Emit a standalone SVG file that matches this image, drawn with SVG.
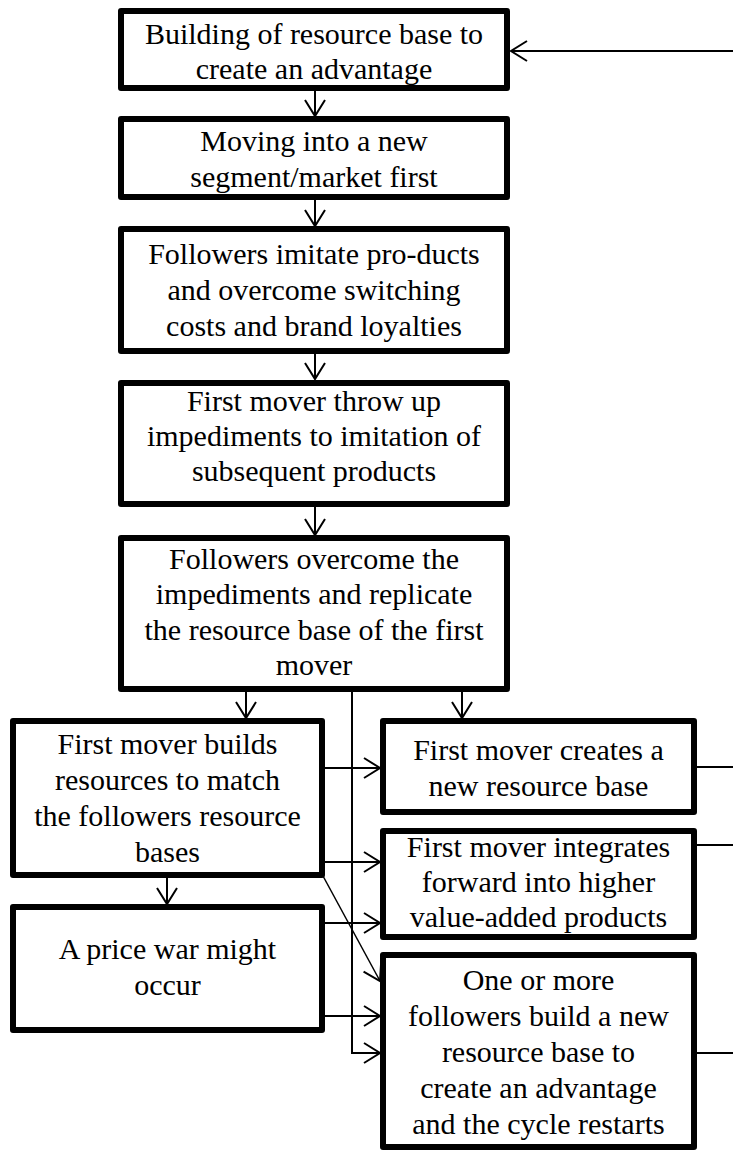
<svg xmlns="http://www.w3.org/2000/svg" width="733" height="1151" viewBox="0 0 733 1151">
<style>
.box{fill:#fff;stroke:#000;stroke-width:6;stroke-linejoin:round}
.t{font-family:"Liberation Serif","Times New Roman",serif;font-size:30px;fill:#000;text-anchor:middle}
.c{fill:none;stroke:#000;stroke-width:2}
.d{fill:none;stroke:#000;stroke-width:1.5}
</style>
<defs>
<marker id="ah" markerUnits="userSpaceOnUse" markerWidth="24" markerHeight="24" viewBox="-18 -12 20 24" refX="0" refY="0" orient="auto">
<path d="M-16,-10 L0,0 L-16,10" fill="none" stroke="#000" stroke-width="2"/>
</marker>
</defs>
<rect width="733" height="1151" fill="#fff"/>
<g id="connectors">
<line class="c" x1="733" y1="51" x2="511" y2="51" marker-end="url(#ah)"/>
<line class="c" x1="315" y1="91" x2="315" y2="116" marker-end="url(#ah)"/>
<line class="c" x1="315" y1="200" x2="315" y2="226" marker-end="url(#ah)"/>
<line class="c" x1="315" y1="354" x2="315" y2="379" marker-end="url(#ah)"/>
<line class="c" x1="315" y1="507" x2="315" y2="535" marker-end="url(#ah)"/>
<line class="c" x1="246" y1="692" x2="246" y2="718" marker-end="url(#ah)"/>
<line class="c" x1="462" y1="692" x2="462" y2="718" marker-end="url(#ah)"/>
<polyline class="c" points="352,692 352,1053 380,1053" marker-end="url(#ah)"/>
<line class="c" x1="325" y1="768" x2="380" y2="768" marker-end="url(#ah)"/>
<line class="c" x1="325" y1="862" x2="380" y2="862" marker-end="url(#ah)"/>
<line class="c" x1="167" y1="878" x2="167" y2="904" marker-end="url(#ah)"/>
<line class="d" x1="323" y1="876" x2="380" y2="981" marker-end="url(#ah)"/>
<line class="c" x1="325" y1="923" x2="380" y2="923" marker-end="url(#ah)"/>
<line class="c" x1="325" y1="1016" x2="380" y2="1016" marker-end="url(#ah)"/>
<line class="c" x1="697" y1="767" x2="733" y2="767"/>
<line class="c" x1="697" y1="845" x2="733" y2="845"/>
<line class="c" x1="697" y1="1053" x2="733" y2="1053"/>
</g>
<g id="n1">
<rect class="box" x="121" y="11" width="386" height="77"/>
<text class="t" x="314" y="44">Building of resource base to</text>
<text class="t" x="314" y="79">create an advantage</text>
</g>
<g id="n2">
<rect class="box" x="121" y="119" width="386" height="78"/>
<text class="t" x="314" y="151">Moving into a new</text>
<text class="t" x="314" y="187">segment/market first</text>
</g>
<g id="n3">
<rect class="box" x="121" y="229" width="386" height="122"/>
<text class="t" x="314" y="264">Followers imitate pro-ducts</text>
<text class="t" x="314" y="300">and overcome switching</text>
<text class="t" x="314" y="336">costs and brand loyalties</text>
</g>
<g id="n4">
<rect class="box" x="121" y="383" width="386" height="121"/>
<text class="t" x="314" y="411">First mover throw up</text>
<text class="t" x="314" y="446">impediments to imitation of</text>
<text class="t" x="314" y="481">subsequent products</text>
</g>
<g id="n5">
<rect class="box" x="121" y="538" width="386" height="151"/>
<text class="t" x="314" y="569">Followers overcome the</text>
<text class="t" x="314" y="604">impediments and replicate</text>
<text class="t" x="314" y="640">the resource base of the first</text>
<text class="t" x="314" y="675">mover</text>
</g>
<g id="n6">
<rect class="box" x="13" y="721" width="309" height="154"/>
<text class="t" x="167.5" y="754">First mover builds</text>
<text class="t" x="167.5" y="790">resources to match</text>
<text class="t" x="167.5" y="826">the followers resource</text>
<text class="t" x="167.5" y="862">bases</text>
</g>
<g id="n7">
<rect class="box" x="383" y="721" width="311" height="91"/>
<text class="t" x="538.5" y="760">First mover creates a</text>
<text class="t" x="538.5" y="796">new resource base</text>
</g>
<g id="n8">
<rect class="box" x="383" y="831" width="311" height="106"/>
<text class="t" x="538.5" y="857">First mover integrates</text>
<text class="t" x="538.5" y="892">forward into higher</text>
<text class="t" x="538.5" y="927">value-added products</text>
</g>
<g id="n9">
<rect class="box" x="13" y="907" width="309" height="123"/>
<text class="t" x="167.5" y="959">A price war might</text>
<text class="t" x="167.5" y="995">occur</text>
</g>
<g id="n10">
<rect class="box" x="383" y="955" width="311" height="192"/>
<text class="t" x="538.5" y="990">One or more</text>
<text class="t" x="538.5" y="1026">followers build a new</text>
<text class="t" x="538.5" y="1062">resource base to</text>
<text class="t" x="538.5" y="1098">create an advantage</text>
<text class="t" x="538.5" y="1134">and the cycle restarts</text>
</g>
</svg>
